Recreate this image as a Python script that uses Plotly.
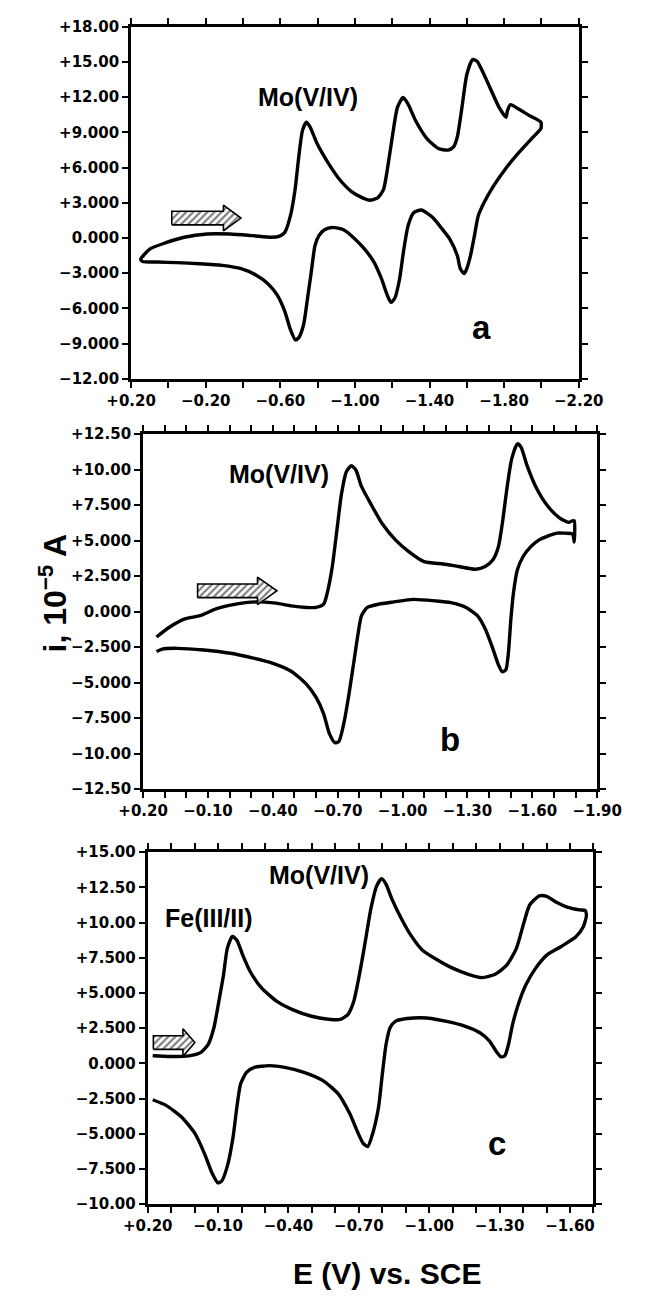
import plotly.graph_objects as go

# ---------------- data ----------------
# Panel a : potential (V vs SCE) and current (10^-5 A)
a_E = [0.149, 0.098, 0.017, -0.085, -0.207, -0.329, -0.451, -0.553, -0.593, -0.624, -0.654, -0.679,
       -0.699, -0.719, -0.740, -0.760, -0.797, -0.858, -0.919, -0.980, -1.041, -1.081, -1.122, -1.153,
       -1.179, -1.203, -1.228, -1.258, -1.285, -1.325, -1.386, -1.447, -1.498, -1.529, -1.549, -1.574,
       -1.600, -1.631, -1.655, -1.692, -1.732, -1.773, -1.810, -1.818, -1.834, -1.875, -1.936, -1.997,
       -1.997, -1.956, -1.875, -1.803, -1.742, -1.692, -1.661, -1.641, -1.620, -1.600, -1.586, -1.565,
       -1.549, -1.508, -1.468, -1.417, -1.356, -1.315, -1.285, -1.260, -1.240, -1.214, -1.193, -1.173,
       -1.142, -1.102, -1.051, -1.000, -0.939, -0.878, -0.837, -0.807, -0.786, -0.766, -0.746, -0.725,
       -0.699, -0.681, -0.654, -0.624, -0.583, -0.532, -0.471, -0.390, -0.288, -0.166, -0.044, 0.058,
       0.139, 0.149]
a_I = [-1.82, -0.93, -0.42, 0.06, 0.34, 0.34, 0.20, 0.06, 0.14, 0.48, 1.88, 4.12,
       6.93, 9.17, 9.87, 9.45, 8.05, 6.36, 4.96, 3.98, 3.42, 3.22, 3.42, 4.12,
       6.36, 8.89, 11.13, 11.97, 11.41, 10.01, 8.47, 7.63, 7.49, 7.77, 8.61, 11.13,
       13.93, 15.20, 15.06, 13.93, 12.53, 11.13, 10.29, 10.85, 11.36, 11.01, 10.43, 9.87,
       9.31, 8.61, 7.21, 5.80, 4.40, 3.00, 1.88, 0.20, -1.49, -2.61, -3.03, -2.61,
       -1.49, -0.08, 0.76, 1.74, 2.38, 2.16, 1.04, -1.21, -3.45, -5.13, -5.49, -4.85,
       -3.45, -2.05, -0.93, -0.08, 0.70, 0.90, 0.70, 0.20, -0.64, -2.89, -5.13, -7.37,
       -8.49, -8.69, -7.79, -6.25, -4.85, -3.87, -3.17, -2.61, -2.33, -2.19, -2.10, -2.05,
       -2.00, -1.82]

# Panel b
b_E = [0.138, 0.077, 0.007, -0.064, -0.134, -0.204, -0.274, -0.345, -0.415, -0.485, -0.556, -0.600,
       -0.635, -0.652, -0.675, -0.696, -0.717, -0.740, -0.763, -0.784, -0.810, -0.854, -0.907, -0.969,
       -1.030, -1.100, -1.188, -1.259, -1.338, -1.382, -1.417, -1.443, -1.461, -1.483, -1.505, -1.531,
       -1.548, -1.575, -1.619, -1.671, -1.724, -1.768, -1.786, -1.794, -1.794,
       -1.786, -1.750, -1.715, -1.680, -1.628, -1.592, -1.557, -1.531, -1.513, -1.501, -1.490, -1.478,
       -1.461, -1.443, -1.417, -1.382, -1.346, -1.294, -1.223, -1.153, -1.048, -0.960, -0.890, -0.837,
       -0.810, -0.793, -0.775, -0.752, -0.728, -0.705, -0.687, -0.661, -0.635, -0.600, -0.556, -0.485,
       -0.397, -0.310, -0.204, -0.081, 0.042, 0.112, 0.138]
b_I = [-1.79, -1.09, -0.52, -0.29, 0.17, 0.45, 0.63, 0.68, 0.59, 0.40, 0.29, 0.29,
       0.52, 1.33, 3.17, 5.70, 8.24, 9.85, 10.27, 9.97, 8.81, 7.55, 6.16, 5.01,
       4.21, 3.51, 3.35, 3.17, 2.98, 3.17, 3.63, 4.55, 6.16, 8.70, 10.77, 11.81,
       11.58, 10.31, 8.70, 7.43, 6.62, 6.28, 6.39, 6.40, 4.90,
       5.47, 5.52, 5.52, 5.36, 5.01, 4.55, 3.86, 2.94, 1.33, -0.52, -2.82, -4.09,
       -4.25, -3.74, -2.59, -1.21, -0.29, 0.29, 0.63, 0.75, 0.86, 0.68, 0.52, 0.29,
       -0.29, -1.67, -3.51, -5.82, -7.89, -9.16, -9.23, -8.58, -7.20, -6.05, -5.13, -4.20,
       -3.63, -3.28, -2.94, -2.71, -2.59, -2.64, -2.82]

# Panel c
c_E = [0.179, 0.105, 0.024, -0.025, -0.058, -0.082, -0.103, -0.123, -0.139, -0.161, -0.180, -0.205,
       -0.237, -0.286, -0.351, -0.417, -0.498, -0.580, -0.621, -0.653, -0.678, -0.702, -0.727, -0.751,
       -0.776, -0.797, -0.816, -0.841, -0.882, -0.922, -0.971, -1.037, -1.102, -1.167, -1.224, -1.281,
       -1.330, -1.371, -1.404, -1.428, -1.469, -1.501, -1.542, -1.591, -1.640, -1.665, -1.670,
       -1.656, -1.624, -1.559, -1.501, -1.453, -1.412, -1.379, -1.355, -1.338, -1.322, -1.306, -1.284,
       -1.257, -1.216, -1.151, -1.069, -0.988, -0.906, -0.857, -0.833, -0.816, -0.800, -0.784, -0.759,
       -0.738, -0.718, -0.694, -0.661, -0.612, -0.547, -0.466, -0.384, -0.319, -0.254, -0.221, -0.196,
       -0.180, -0.164, -0.139, -0.115, -0.099, -0.074, -0.041, -0.001, 0.056, 0.122, 0.179]
c_I = [0.54, 0.49, 0.54, 0.77, 1.36, 2.53, 4.40, 6.28, 8.15, 9.02, 8.74, 7.69,
       6.51, 5.34, 4.40, 3.82, 3.35, 3.12, 3.12, 3.47, 4.40, 6.28, 8.62, 10.97,
       12.61, 13.12, 12.72, 11.67, 10.26, 9.09, 8.04, 7.33, 6.75, 6.33, 6.09, 6.33,
       6.98, 8.15, 10.03, 11.25, 11.90, 11.86, 11.44, 11.08, 10.90, 10.85, 10.50,
       9.68, 8.97, 8.27, 7.69, 6.75, 5.58, 4.17, 2.76, 1.36, 0.54, 0.47, 0.89,
       1.59, 2.18, 2.65, 3.00, 3.23, 3.19, 3.00, 2.53, 1.36, -0.75, -3.09, -4.97,
       -5.90, -5.67, -4.85, -3.56, -2.16, -1.22, -0.63, -0.28, -0.16, -0.28, -0.63, -1.45,
       -3.09, -5.20, -7.31, -8.36, -8.48, -7.78, -6.37, -4.97, -3.80, -2.98, -2.58]

# Axes: ranges and tick labels
x_ranges = [[0.20, -2.20], [0.20, -1.90], [0.20, -1.70]]
y_ranges = [[-12, 18], [-12.5, 12.5], [-10, 15]]

a_xticks = [0.20, -0.20, -0.60, -1.00, -1.40, -1.80, -2.20]
a_xtext = ["+0.20", "−0.20", "−0.60", "−1.00", "−1.40", "−1.80", "−2.20"]
a_xminor = [0.0, -0.4, -0.8, -1.2, -1.6, -2.0]
b_xticks = [0.20, -0.10, -0.40, -0.70, -1.00, -1.30, -1.60, -1.90]
b_xtext = ["+0.20", "−0.10", "−0.40", "−0.70", "−1.00", "−1.30", "−1.60", "−1.90"]
b_xminor = [0.1, 0.0, -0.2, -0.3, -0.5, -0.6, -0.8, -0.9, -1.1, -1.2, -1.4, -1.5, -1.7, -1.8]
c_xticks = [0.20, -0.10, -0.40, -0.70, -1.00, -1.30, -1.60]
c_xtext = ["+0.20", "−0.10", "−0.40", "−0.70", "−1.00", "−1.30", "−1.60"]
c_xminor = [0.1, 0.0, -0.2, -0.3, -0.5, -0.6, -0.8, -0.9, -1.1, -1.2, -1.4, -1.5, -1.7]

a_yticks = [-12, -9, -6, -3, 0, 3, 6, 9, 12, 15, 18]
a_ytext = ["−12.00", "−9.000", "−6.000", "−3.000", "0.000", "+3.000", "+6.000", "+9.000",
           "+12.00", "+15.00", "+18.00"]
b_yticks = [-12.5, -10, -7.5, -5, -2.5, 0, 2.5, 5, 7.5, 10, 12.5]
b_ytext = ["−12.50", "−10.00", "−7.500", "−5.000", "−2.500", "0.000", "+2.500", "+5.000",
           "+7.500", "+10.00", "+12.50"]
c_yticks = [-10, -7.5, -5, -2.5, 0, 2.5, 5, 7.5, 10, 12.5, 15]
c_ytext = ["−10.00", "−7.500", "−5.000", "−2.500", "0.000", "+2.500", "+5.000", "+7.500",
           "+10.00", "+12.50", "+15.00"]

# Labels inside panels: (text, E, I)
wave_labels = [
    [("Mo(V/IV)", -0.75, 12.0)],
    [("Mo(V/IV)", -0.43, 9.7)],
    [("Mo(V/IV)", -0.53, 13.4), ("Fe(III/II)", -0.06, 10.3)],
]
panel_letters = [("a", -1.68, -7.6), ("b", -1.22, -9.0), ("c", -1.29, -5.7)]

# Scan-direction arrows: (E start, E head base, E tip, I centre, body half, head half)
arrows = [
    (-0.018, -0.295, -0.389, 1.70, 0.58, 1.10),
    (-0.052, -0.329, -0.419, 1.46, 0.48, 0.97),
    (0.176, 0.050, -0.001, 1.48, 0.48, 0.98),
]

# ---------------- layout geometry (pixels in 648 x 1302) ----------------
W, H = 648, 1302
boxes = [  # left, right, top, bottom
    (115, 600, 18, 375),
    (128, 620, 431, 791),
    (133, 616, 855, 1212),
]

curves = [(a_E, a_I), (b_E, b_I), (c_E, c_I)]
xt = [(a_xticks, a_xtext, a_xminor), (b_xticks, b_xtext, b_xminor), (c_xticks, c_xtext, c_xminor)]
yt = [(a_yticks, a_ytext), (b_yticks, b_ytext), (c_yticks, c_ytext)]

fig = go.Figure()
tickfont = dict(family="DejaVu Sans", size=15, color="black", weight="bold")
annotations = []

for k in range(3):
    sfx = "" if k == 0 else str(k + 1)
    xa, ya = "x" + sfx, "y" + sfx
    E, I = curves[k]
    fig.add_trace(go.Scatter(x=E, y=I, mode="lines", xaxis=xa, yaxis=ya,
                             line=dict(color="black", width=3.4, shape="spline", smoothing=0.6),
                             hoverinfo="skip", showlegend=False))
    e0, eh, e1, ic, bh, hh = arrows[k]
    ax_x = [e0, eh, eh, e1, eh, eh, e0, e0]
    ax_y = [ic - bh, ic - bh, ic - hh, ic, ic + hh, ic + bh, ic + bh, ic - bh]
    fig.add_trace(go.Scatter(x=ax_x, y=ax_y, mode="lines", xaxis=xa, yaxis=ya, fill="toself",
                             fillcolor="white",
                             fillpattern=dict(shape="/", fgcolor="black", bgcolor="white",
                                              size=5, solidity=0.45),
                             line=dict(color="black", width=1.6),
                             hoverinfo="skip", showlegend=False))
    l, r, t, b = boxes[k]
    tv, tt, mv = xt[k]
    yv, ytx = yt[k]
    fig.layout["xaxis" + sfx] = dict(
        domain=[l / W, r / W], range=x_ranges[k], anchor=ya,
        tickmode="array", tickvals=tv, ticktext=tt, tickfont=tickfont,
        ticks="outside", ticklen=6, tickwidth=2.2, tickcolor="black",
        showline=True, linewidth=3, linecolor="black", mirror="ticks",
        showgrid=False, zeroline=False,
        minor=dict(tickmode="array", tickvals=mv, ticks="outside", ticklen=6, tickwidth=2.2,
                   tickcolor="black", showgrid=False),
    )
    fig.layout["yaxis" + sfx] = dict(
        domain=[1 - b / H, 1 - t / H], range=y_ranges[k], anchor=xa,
        tickmode="array", tickvals=yv, ticktext=ytx, tickfont=tickfont,
        ticks="outside", ticklen=6, tickwidth=2.2, tickcolor="black",
        showline=True, linewidth=3, linecolor="black", mirror="ticks",
        showgrid=False, zeroline=False,
    )
    for txt, ex, iy in wave_labels[k]:
        annotations.append(dict(text=txt, x=ex, y=iy, xref=xa, yref=ya, showarrow=False,
                                font=dict(family="Liberation Sans", size=25, color="black",
                                          weight="bold")))
    lt, lx, ly = panel_letters[k]
    annotations.append(dict(text=lt, x=lx, y=ly, xref=xa, yref=ya, showarrow=False,
                            font=dict(family="Liberation Sans", size=33, color="black", weight="bold")))

annotations.append(dict(text="i, 10<sup>−5</sup> A", x=30 / W, y=1 - 592 / H, xref="paper", yref="paper",
                        textangle=-90, showarrow=False, xanchor="center", yanchor="middle",
                        font=dict(family="Liberation Sans", size=32, color="black", weight="bold")))
annotations.append(dict(text="E (V) vs. SCE", x=392 / W, y=1 - 1282 / H, xref="paper", yref="paper",
                        showarrow=False, xanchor="center", yanchor="middle",
                        font=dict(family="Liberation Sans", size=30, color="black", weight="bold")))

fig.update_layout(width=W, height=H, margin=dict(l=0, r=0, t=0, b=0),
                  paper_bgcolor="white", plot_bgcolor="white",
                  annotations=annotations, showlegend=False)

fig.write_html("out.html")
